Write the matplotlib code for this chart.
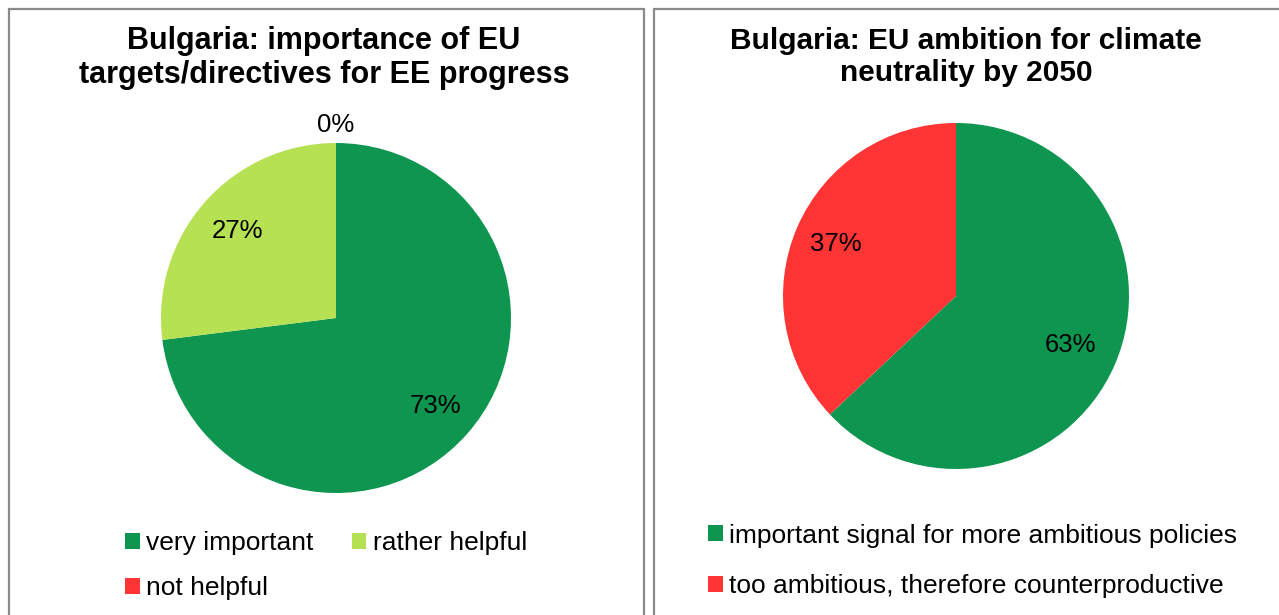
import numpy as np
import matplotlib
matplotlib.use('Agg')
import matplotlib.pyplot as plt
from matplotlib.patches import Rectangle

plt.rcParams['font.family'] = ['Liberation Sans', 'DejaVu Sans']

# Dados dos dois gráficos
titulo_esq = 'Bulgaria: importance of EU\ntargets/directives for EE progress'
categorias_esq = ['very important', 'rather helpful', 'not helpful']
valores_esq = [73, 27, 0]
cores_esq = ['#0E9650', '#B6E152', '#FF3434']

titulo_dir = 'Bulgaria: EU ambition for climate\nneutrality by 2050'
categorias_dir = ['important signal for more ambitious policies',
                  'too ambitious, therefore counterproductive']
valores_dir = [63, 37]
cores_dir = ['#0E9650', '#FF3434']

W, H = 1279, 615
fig = plt.figure(figsize=(W / 100, H / 100), dpi=100)


def px_axes(cx, cy, r):
    """Cria eixos quadrados a partir do centro e raio em pixels"""
    return fig.add_axes([(cx - r) / W, 1 - (cy + r) / H, 2 * r / W, 2 * r / H])


def desenharPizza(ax, valores, cores, distancias):
    fatias, _ = ax.pie(valores, colors=cores, startangle=90, counterclock=False,
                       wedgeprops=dict(linewidth=0))
    for fatia, valor, dist in zip(fatias, valores, distancias):
        ang = np.deg2rad((fatia.theta1 + fatia.theta2) / 2)
        ax.text(dist * np.cos(ang), dist * np.sin(ang), f'{valor}%',
                ha='center', va='center', fontsize=18.5, color='black')
    ax.set_xlim(-1, 1)
    ax.set_ylim(-1, 1)
    ax.axis('off')
    return fatias


# Molduras dos painéis
borda = dict(fill=False, edgecolor='#8a8a8a', linewidth=1.6, transform=fig.transFigure)
fig.patches.append(Rectangle((8.5 / W, -0.05), (644 - 8.5) / W, 1.05 - 8.5 / H, **borda))
fig.patches.append(Rectangle((653.5 / W, -0.05), 0.6, 1.05 - 8.5 / H, **borda))

# Gráfico da esquerda
ax1 = px_axes(336, 318, 175)
fatias1 = desenharPizza(ax1, valores_esq, cores_esq, [0.76, 0.75, 1.1])
fig.text(324 / W, 1 - 58 / H, titulo_esq, ha='center', va='center',
         fontsize=22, fontweight='bold', linespacing=1.15)

ordem = [0, 2, 1]
fig.legend([fatias1[i] for i in ordem], [categorias_esq[i] for i in ordem],
           loc='upper left', bbox_to_anchor=(125 / W, 1 - 531 / H), ncol=2,
           frameon=False, borderpad=0, borderaxespad=0, fontsize=19,
           handlelength=0.55, handleheight=0.55, handletextpad=0.25,
           columnspacing=1.45, labelspacing=0.81)

# Gráfico da direita
ax2 = px_axes(956, 296, 173)
fatias2 = desenharPizza(ax2, valores_dir, cores_dir, [0.72, 0.76])
fig.text(966 / W, 1 - 57 / H, titulo_dir, ha='center', va='center',
         fontsize=21.5, fontweight='bold', linespacing=1.17)

fig.legend(fatias2, categorias_dir,
           loc='upper left', bbox_to_anchor=(708 / W, 1 - 523.5 / H), ncol=1,
           frameon=False, borderpad=0, borderaxespad=0, fontsize=19,
           handlelength=0.55, handleheight=0.55, handletextpad=0.25,
           labelspacing=1.0)

fig.savefig('out.png', dpi=100)
